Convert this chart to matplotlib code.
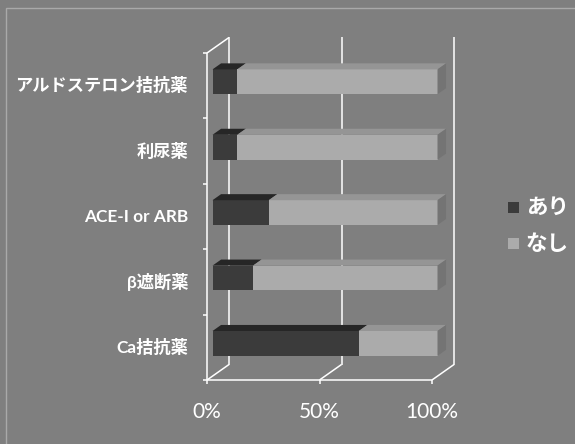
import matplotlib
matplotlib.use("Agg")
import matplotlib.pyplot as plt
from matplotlib.patches import Polygon, Rectangle

# ---- data -------------------------------------------------------------
categories = ["Ca拮抗薬", "β遮断薬", "ACE-I or ARB", "利尿薬", "アルドステロン拮抗薬"]
ari = [65, 18, 25, 11, 11]        # あり (%)
nashi = [35, 82, 75, 89, 89]      # なし (%)
series_names = ["あり", "なし"]
x_ticks = [0, 50, 100]
x_tick_labels = ["0%", "50%", "100%"]

# ---- style --------------------------------------------------------------
BG = "#7f7f7f"
DARK_FRONT, DARK_TOP = "#3b3b3b", "#262626"
LIGHT_FRONT, LIGHT_TOP, LIGHT_SIDE = "#ababab", "#959595", "#747474"
GRID = "white"
LABEL_FONT = ["Lato", "Noto Sans CJK JP", "DejaVu Sans"]
CJK_FONT = ["Noto Sans CJK JP", "DejaVu Sans"]

W, H = 575, 444
fig = plt.figure(figsize=(W / 100, H / 100), dpi=100)
fig.patch.set_facecolor(BG)
ax = fig.add_axes([0, 0, 1, 1])
ax.axis("off")

# front-plane scale: percent on x, category slots on y
PX_X = 2.25      # pixels per percent
PX_Y = 65.4      # pixels per category slot
OX, OY = 207, 380  # pixel position of the front-plane origin (from top-left)
ax.set_xlim(-OX / PX_X, (W - OX) / PX_X)
ax.set_ylim(-(H - OY) / PX_Y, OY / PX_Y)

# oblique depth vector of the whole 3-D box, in data units
DX = 22 / PX_X
DY = 15.5 / PX_Y
F1, F2 = 0.25, 0.64   # depth fraction of bar front / back faces
HH = 0.19             # half bar height (slots)
n = len(categories)

line_kw = dict(color=GRID, lw=1.1, solid_capstyle="butt", zorder=1)

# back-wall vertical gridlines
for v in x_ticks:
    ax.plot([v + DX, v + DX], [DY, n + DY], **line_kw)
# floor: front edge, depth lines and tick marks
ax.plot([0, 100], [0, 0], **line_kw)
for v in x_ticks:
    ax.plot([v, v + DX], [0, DY], **line_kw)
    ax.plot([v, v], [0, -4 / PX_Y], **line_kw)
# left wall: front axis, top depth edge and category ticks
ax.plot([0, 0], [0, n], **line_kw)
ax.plot([0, DX], [n, n + DY], **line_kw)
for k in range(n + 1):
    ax.plot([-4 / PX_X, 0], [k, k], **line_kw)

# 3-D stacked bars
for i, (a, b) in enumerate(zip(ari, nashi)):
    c = i + 0.5
    yb, yt = c - HH + F1 * DY, c + HH + F1 * DY
    segs = [(0, a, DARK_FRONT, DARK_TOP), (a, a + b, LIGHT_FRONT, LIGHT_TOP)]
    for x0, x1, front, top in segs:
        ax.barh(c + F1 * DY, x1 - x0, left=x0 + F1 * DX, height=2 * HH,
                color=front, lw=0, zorder=3)
        ax.add_patch(Polygon([(x0 + F1 * DX, yt), (x1 + F1 * DX, yt),
                              (x1 + F2 * DX, yt + (F2 - F1) * DY),
                              (x0 + F2 * DX, yt + (F2 - F1) * DY)],
                             closed=True, color=top, lw=0, zorder=3))
    xe = a + b
    ax.add_patch(Polygon([(xe + F1 * DX, yb), (xe + F1 * DX, yt),
                          (xe + F2 * DX, yt + (F2 - F1) * DY),
                          (xe + F2 * DX, yb + (F2 - F1) * DY)],
                         closed=True, color=LIGHT_SIDE, lw=0, zorder=3))

# category labels
for i, name in enumerate(categories):
    ax.text(-19 / PX_X, i + 0.5, name, ha="right", va="center",
            color="white", fontsize=12.4, fontweight="bold", family=LABEL_FONT)

# value axis labels
for v, lab in zip(x_ticks, x_tick_labels):
    ax.text(v, -32 / PX_Y, lab, ha="center", va="center", color="white",
            fontsize=15, family=["Lato", "DejaVu Sans"])

# legend
def fig_xy(px, py):
    return px / W, 1 - py / H

legend_rows = [(series_names[0], DARK_FRONT, 208), (series_names[1], LIGHT_FRONT, 244)]
for label, col, py in legend_rows:
    x, y = fig_xy(508, py + 5.5)
    fig.patches.append(Rectangle((x, y), 11 / W, 11 / H, transform=fig.transFigure,
                                 color=col, lw=0))
    tx, ty = fig_xy(526, py - 1)
    fig.text(tx, ty, label, ha="left", va="center", color="white",
             fontsize=15.5, fontweight="bold", family=CJK_FONT)

# chart-area border
bx, by = fig_xy(6, 8)
fig.patches.append(Rectangle((bx, -0.1), 1.2, by + 0.1, transform=fig.transFigure,
                             fill=False, edgecolor="#a9a9a9", lw=1.0))

fig.savefig("out.png", dpi=100, facecolor=BG)
